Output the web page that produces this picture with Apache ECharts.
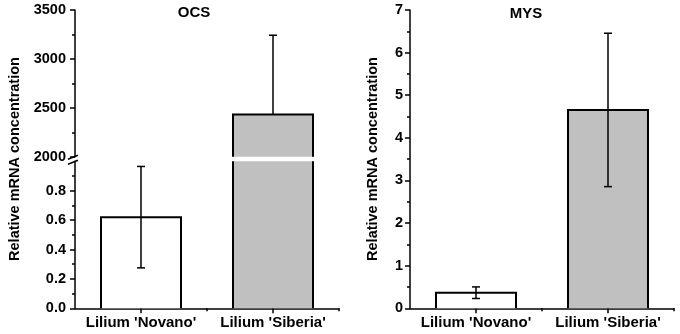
<!DOCTYPE html>
<html>
<head>
<meta charset="utf-8">
<script src="https://cdn.jsdelivr.net/npm/echarts@6/dist/echarts.min.js"></script>
<style>
  html, body { margin: 0; padding: 0; background: #fff; }
  #chart { width: 680px; height: 334px; }
</style>
</head>
<body>
<div id="chart"></div>
<script>
// data
var categories = ["Lilium 'Novano'", "Lilium 'Siberia'"];
var ocsMean = [0.62, 2432];
var ocsErr = [0.345, 810];
var mysMean = [0.366, 4.655];
var mysErr = [0.136, 1.8];
var titles = ['OCS', 'MYS'];
var yName = 'Relative mRNA concentration';

var FONT = '"Liberation Sans", Arial, sans-serif';
var BAR_W = 80 / 132;            // bar width in category units
var fills = ['#ffffff', '#c0c0c0'];

// bar drawn between lo and hi of its grid, no edge where it is cut
function barSeries(xi, yi, means, lo, hi) {
  return {
    type: 'custom', xAxisIndex: xi, yAxisIndex: yi, z: 2,
    data: means.map(function (v, i) { return [i + 1, v]; }),
    renderItem: function (params, api) {
      var x = api.value(0), v = api.value(1);
      if (v <= lo) return;
      var a = api.coord([x - BAR_W / 2, lo]);
      var b = api.coord([x + BAR_W / 2, Math.min(v, hi)]);
      var line = { stroke: '#000', lineWidth: 2, fill: null };
      var kids = [{
        type: 'rect',
        shape: { x: a[0], y: b[1], width: b[0] - a[0], height: a[1] - b[1] },
        style: { fill: fills[params.dataIndex] }
      }];
      if (v <= hi) {
        kids.push({ type: 'polyline', shape: { points: [[a[0], a[1]], [a[0], b[1]], [b[0], b[1]], [b[0], a[1]]] }, style: line });
      } else {
        kids.push({ type: 'line', shape: { x1: a[0], y1: a[1], x2: a[0], y2: b[1] }, style: line });
        kids.push({ type: 'line', shape: { x1: b[0], y1: a[1], x2: b[0], y2: b[1] }, style: line });
      }
      return { type: 'group', children: kids };
    }
  };
}

function errSeries(xi, yi, means, errs, lo, hi, upOnly) {
  return {
    type: 'custom', xAxisIndex: xi, yAxisIndex: yi, z: 3,
    data: means.map(function (v, i) { return [i + 1, v, errs[i]]; }),
    renderItem: function (params, api) {
      var x = api.value(0), v = api.value(1), e = api.value(2);
      if (v < lo || v > hi) return;
      var t = api.coord([x, v + e]);
      var bot = api.coord([x, upOnly ? v : v - e]);
      var st = { stroke: '#000', lineWidth: 1.5 };
      var kids = [
        { type: 'line', shape: { x1: t[0], y1: t[1], x2: bot[0], y2: bot[1] }, style: st },
        { type: 'line', shape: { x1: t[0] - 4, y1: t[1], x2: t[0] + 4, y2: t[1] }, style: st }
      ];
      if (!upOnly) kids.push({ type: 'line', shape: { x1: bot[0] - 4, y1: bot[1], x2: bot[0] + 4, y2: bot[1] }, style: st });
      return { type: 'group', children: kids };
    }
  };
}

var labelFont = { color: '#000', fontWeight: 'bold', fontSize: 14.5, fontFamily: FONT };

function xMain(gi, show) {
  return {
    type: 'value', gridIndex: gi, position: 'bottom', min: 0.5, max: 2.5, interval: 0.5, show: show,
    axisLine: { lineStyle: { color: '#000', width: 1.5 } },
    axisTick: { length: 5, customValues: [1, 2], lineStyle: { color: '#000', width: 1.5 } },
    axisLabel: { margin: 7, fontSize: 15, customValues: [1, 2], color: '#000', fontWeight: 'bold', fontFamily: FONT,
      formatter: function (v) { return categories[Math.round(v) - 1] || ''; } },
    splitLine: { show: false }
  };
}
// shorter ticks between and after the categories
function xMinor(gi) {
  return {
    type: 'value', gridIndex: gi, position: 'bottom', min: 0.5, max: 2.5, interval: 0.5,
    axisLine: { show: false },
    axisTick: { length: 3, customValues: [1.5, 2.5], lineStyle: { color: '#000', width: 1.5 } },
    axisLabel: { show: false },
    splitLine: { show: false }
  };
}
function yAxis(gi, min, max, interval, margin, fmt, tickVals) {
  var ax = {
    type: 'value', gridIndex: gi, position: 'left', min: min, max: max, interval: interval,
    axisLine: { show: true, lineStyle: { color: '#000', width: 1.5 } },
    axisTick: { show: true, length: 5, lineStyle: { color: '#000', width: 1.5 } },
    minorTick: { show: true, splitNumber: 2, length: 3, lineStyle: { color: '#000', width: 1.5 } },
    axisLabel: Object.assign({ margin: margin, formatter: fmt }, labelFont),
    splitLine: { show: false }, minorSplitLine: { show: false }
  };
  if (tickVals) { ax.axisTick.customValues = tickVals; ax.axisLabel.customValues = tickVals; }
  return ax;
}

function txt(x, y, s, size, rot) {
  return { type: 'text', x: x, y: y, rotation: rot || 0,
    style: { text: s, fontSize: size, fontWeight: 'bold', fontFamily: FONT, textAlign: 'center', textVerticalAlign: 'middle', fill: '#000' } };
}

var option = {
  animation: false,
  backgroundColor: '#fff',
  grid: [
    { left: 75, top: 10, width: 264, height: 146.7, outerBoundsMode: 'none' },
    { left: 75, top: 161.3, width: 264, height: 147, outerBoundsMode: 'none' },
    { left: 410, top: 10, width: 264, height: 298.3, outerBoundsMode: 'none' }
  ],
  xAxis: [xMain(0, false), xMain(1, true), xMain(2, true), xMinor(1), xMinor(2)],
  yAxis: [
    yAxis(0, 2000, 3500, 500, 9, function (v) { return String(v); }),
    yAxis(1, 0, 1, 0.2, 9, function (v) { return v.toFixed(1); }, [0, 0.2, 0.4, 0.6, 0.8]),
    yAxis(2, 0, 7, 1, 7, function (v) { return String(v); })
  ],
  graphic: [
    txt(194, 13, titles[0], 15),
    txt(526, 14, titles[1], 15),
    txt(15, 159, yName, 14.5, Math.PI / 2),
    txt(373, 159, yName, 14.5, Math.PI / 2)
  ],
  series: [
    barSeries(0, 0, ocsMean, 2000, 3500),
    barSeries(1, 1, ocsMean, 0, 1),
    barSeries(2, 2, mysMean, 0, 7),
    errSeries(0, 0, ocsMean, ocsErr, 2000, 3500, true),
    errSeries(1, 1, ocsMean, ocsErr, 0, 1, false),
    errSeries(2, 2, mysMean, mysErr, 0, 7, false),
    {
      // axis break marks
      type: 'custom', xAxisIndex: 1, yAxisIndex: 1, z: 5,
      data: [[0.5, 1]],
      renderItem: function (params, api) {
        var p = api.coord([api.value(0), api.value(1)]);
        var st = { stroke: '#000', lineWidth: 1.5 };
        return { type: 'group', children: [
          { type: 'line', shape: { x1: p[0] - 7, y1: p[1] - 2, x2: p[0] + 3, y2: p[1] - 6 }, style: st },
          { type: 'line', shape: { x1: p[0] - 7, y1: p[1] + 3, x2: p[0] + 3, y2: p[1] - 1 }, style: st }
        ] };
      }
    }
  ]
};

var myChart = echarts.init(document.getElementById('chart'));
myChart.setOption(option);
</script>
</body>
</html>
